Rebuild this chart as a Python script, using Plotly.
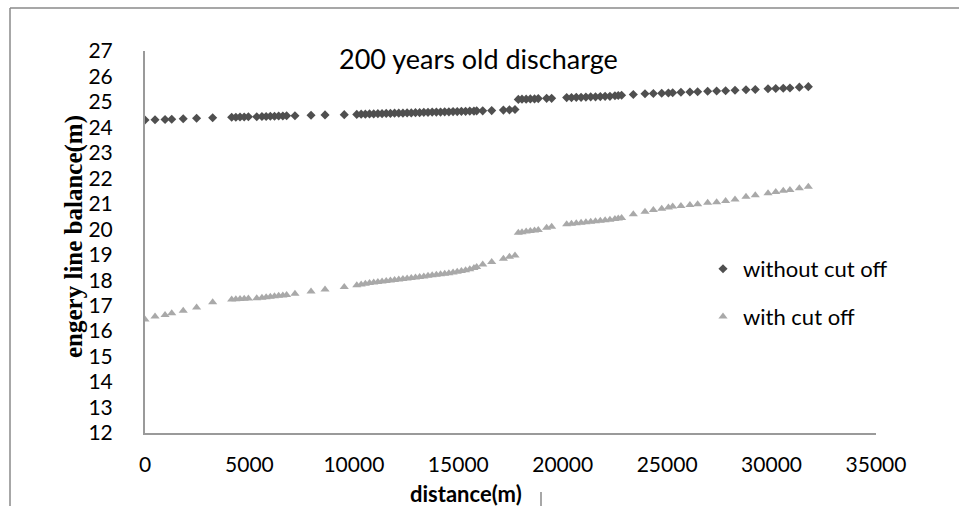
import plotly.graph_objects as go

distance = [
    0, 480, 960, 1280, 1830, 2470, 3240,
    4150, 4350, 4550, 4750, 4950,
    5350, 5600, 5800, 6000, 6200, 6400, 6600, 6780,
    7180, 7950, 8620, 9540,
    10140, 10350, 10550, 10750, 10950, 11150, 11350, 11550, 11750, 11950,
    12150, 12350, 12550, 12750, 12950, 13150, 13350, 13550, 13750, 13950,
    14150, 14350, 14550, 14750, 14950, 15150, 15350, 15550, 15750, 15880,
    16170, 16600, 17160, 17450, 17715,
    17874, 18050, 18250, 18450, 18650, 18830,
    19230, 19470,
    20190, 20420, 20650, 20880, 21110, 21340, 21570, 21800, 22030, 22260,
    22500, 22660, 22820,
    23380, 23940, 24340, 24740, 25060, 25265, 25660, 26090, 26460, 26940,
    27370, 27800, 28250, 28775, 29220, 29830, 30200, 30560, 30880, 31330, 31760,
]

without_cut_off = [
    24.29, 24.30, 24.31, 24.32, 24.34, 24.36, 24.38,
    24.40, 24.40, 24.41, 24.41, 24.42,
    24.42, 24.43, 24.43, 24.44, 24.44, 24.45, 24.45, 24.46,
    24.46, 24.48, 24.49, 24.50,
    24.51, 24.52, 24.52, 24.53, 24.53, 24.54, 24.54, 24.55, 24.55, 24.56,
    24.56, 24.56, 24.57, 24.57, 24.58, 24.58, 24.59, 24.59, 24.60, 24.60,
    24.60, 24.61, 24.61, 24.62, 24.62, 24.63, 24.63, 24.64, 24.64, 24.65,
    24.65, 24.66, 24.68, 24.69, 24.70,
    25.10, 25.11, 25.11, 25.12, 25.12, 25.13,
    25.14, 25.14,
    25.17, 25.17, 25.18, 25.18, 25.19, 25.20, 25.20, 25.21, 25.22, 25.22,
    25.24, 25.25, 25.26,
    25.29, 25.32, 25.33, 25.34, 25.35, 25.36, 25.38, 25.39, 25.40, 25.42,
    25.43, 25.44, 25.46, 25.48, 25.49, 25.52, 25.53, 25.54, 25.55, 25.58, 25.60,
]

with_cut_off = [
    16.46, 16.57, 16.63, 16.70, 16.80, 16.93, 17.13,
    17.24, 17.25, 17.26, 17.27, 17.28,
    17.29, 17.31, 17.33, 17.35, 17.37, 17.39, 17.40, 17.42,
    17.47, 17.56, 17.63, 17.73,
    17.80, 17.83, 17.86, 17.89, 17.91, 17.93, 17.95, 17.97, 17.99, 18.01,
    18.03, 18.05, 18.07, 18.09, 18.11, 18.13, 18.15, 18.17, 18.19, 18.21,
    18.23, 18.25, 18.27, 18.30, 18.33, 18.36, 18.39, 18.43, 18.48, 18.52,
    18.62, 18.71, 18.84, 18.92, 18.97,
    19.86, 19.88, 19.91, 19.93, 19.95, 19.97,
    20.06, 20.10,
    20.20, 20.22, 20.24, 20.26, 20.28, 20.30, 20.31, 20.33, 20.35, 20.37,
    20.40, 20.42, 20.44,
    20.59, 20.69, 20.76, 20.81, 20.85, 20.89, 20.91, 20.95, 20.98, 21.04,
    21.06, 21.11, 21.17, 21.28, 21.34, 21.41, 21.46, 21.51, 21.54, 21.61, 21.67,
]

series_names = ["without cut off", "with cut off"]
x_ticks = [0, 5000, 10000, 15000, 20000, 25000, 30000, 35000]
y_ticks = list(range(12, 28))

FONT = "Lato, 'Open Sans', sans-serif"
L, R, T, B = 145, 83, 51, 73
W, H = 959, 506
pw, ph = W - L - R, H - T - B


def px_x(px):
    return (px - L) / pw


def px_y(py):
    return (H - B - py) / ph


fig = go.Figure()
fig.add_trace(go.Scatter(
    x=distance, y=without_cut_off, mode="markers", name=series_names[0],
    legendgroup="a",
    marker=dict(symbol="diamond", size=7, color="#4f4f4f"),
))
fig.add_trace(go.Scatter(
    x=distance, y=with_cut_off, mode="markers", name=series_names[1],
    legendgroup="b",
    marker=dict(symbol="triangle-up", size=8, color="#a9a9a9"),
))

fig.update_layout(
    width=W, height=H,
    margin=dict(l=L, r=R, t=T, b=B),
    paper_bgcolor="white", plot_bgcolor="white",
    font=dict(family=FONT, size=20, color="black"),
    showlegend=True,
    legend=dict(
        x=px_x(703), y=px_y(248), xanchor="left", yanchor="top",
        bgcolor="rgba(0,0,0,0)", font=dict(size=22, family=FONT),
        tracegroupgap=16, itemwidth=30,
    ),
    xaxis=dict(
        range=[0, 35000], tickvals=x_ticks, ticktext=[str(v) for v in x_ticks],
        showgrid=False, zeroline=False, showline=True,
        linecolor="#9a9a9a", linewidth=2, ticks="", ticklabelstandoff=12,
        tickfont=dict(size=21, family=FONT),
    ),
    yaxis=dict(
        range=[12, 27], tickvals=y_ticks, ticktext=[str(v) for v in y_ticks],
        showgrid=False, zeroline=False, showline=True,
        linecolor="#9a9a9a", linewidth=2, ticks="", ticklabelstandoff=26,
        tickfont=dict(size=21, family=FONT),
    ),
    annotations=[
        dict(text="200 years old discharge", x=px_x(478), y=px_y(58),
             xref="paper", yref="paper", showarrow=False,
             xanchor="center", yanchor="middle",
             font=dict(size=27, family=FONT)),
        dict(text="<b>distance(m)</b>", x=px_x(466), y=px_y(493),
             xref="paper", yref="paper", showarrow=False,
             xanchor="center", yanchor="middle",
             font=dict(size=22, family=FONT)),
        dict(text="<b>engery line balance(m)</b>", x=px_x(74), y=px_y(237),
             xref="paper", yref="paper", showarrow=False, textangle=-90,
             xanchor="center", yanchor="middle",
             font=dict(size=25, family="'Liberation Serif', 'Times New Roman', serif")),
    ],
    shapes=[
        dict(type="line", xref="paper", yref="paper",
             x0=px_x(10), x1=px_x(10), y0=px_y(8), y1=px_y(520),
             line=dict(color="#8a8a8a", width=1.5)),
        dict(type="line", xref="paper", yref="paper",
             x0=px_x(10), x1=px_x(970), y0=px_y(8), y1=px_y(8),
             line=dict(color="#8a8a8a", width=1.5)),
        dict(type="line", xref="paper", yref="paper",
             x0=px_x(541), x1=px_x(541), y0=px_y(492), y1=px_y(520),
             line=dict(color="#8a8a8a", width=1.5)),
    ],
)

fig.write_html(
    "out.html",
    config={"displayModeBar": False},
    post_script="document.body.style.margin='0';document.body.style.overflow='hidden';",
)
